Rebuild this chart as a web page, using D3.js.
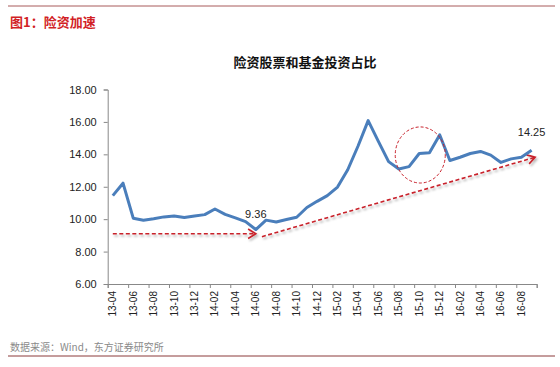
<!DOCTYPE html>
<html>
<head>
<meta charset="utf-8">
<script src="https://cdn.jsdelivr.net/npm/d3@7"></script>
<style>
  body { margin: 0; background: #fff; }
  svg { display: block; font-family: "Liberation Sans", "Noto Sans CJK SC", sans-serif; }
</style>
</head>
<body>
<div id="chart"></div>
<script>
// 月份 13-04 .. 16-09
const months = ["13-04","13-05","13-06","13-07","13-08","13-09","13-10","13-11","13-12",
  "14-01","14-02","14-03","14-04","14-05","14-06","14-07","14-08","14-09","14-10","14-11","14-12",
  "15-01","15-02","15-03","15-04","15-05","15-06","15-07","15-08","15-09","15-10","15-11","15-12",
  "16-01","16-02","16-03","16-04","16-05","16-06","16-07","16-08","16-09"];

const share = [11.45, 12.22, 10.06, 9.93, 10.02, 10.14, 10.20, 10.10, 10.20,
  10.28, 10.63, 10.30, 10.08, 9.85, 9.36, 9.94, 9.83, 9.98, 10.12, 10.72, 11.10,
  11.45, 11.98, 13.05, 14.50, 16.08, 14.80, 13.55, 13.10, 13.24, 14.05, 14.10, 15.20,
  13.62, 13.82, 14.05, 14.18, 13.95, 13.50, 13.72, 13.82, 14.25];

const yTicks = [6, 8, 10, 12, 14, 16, 18];
const tickLabels = months.filter((d, i) => i % 2 === 0);

// 标注：数值标签、箭头、圆圈（数据坐标）
const valueLabels = [{i: 14, v: 9.36, dy: -12}, {i: 41, v: 14.25, dy: -14}];
const arrows = [
  {from: [0, 9.1], to: [14.0, 9.1]},
  {from: [14.6, 8.92], to: [41.35, 13.82]}
];
const ring = {i: 30.1, v: 13.96, ri: 2.45, rv: 1.73};

const width = 560, height = 367;
const x0 = 107.7, x1 = 536.7, yTop = 89.5, yBot = 284;

const svg = d3.select("#chart").append("svg")
  .attr("width", width)
  .attr("height", height);

const x = d3.scaleBand().domain(months).range([x0, x1]);
const xi = d3.scaleLinear().domain([0, months.length]).range([x0, x1]);
const xc = i => xi(i + 0.5);
const y = d3.scaleLinear().domain([6, 18]).range([yBot, yTop]);

// 页眉页脚线
svg.append("line").attr("x1", 8).attr("x2", 555).attr("y1", 6).attr("y2", 6)
  .attr("stroke", "#a85a5a").attr("stroke-width", 1);
svg.append("line").attr("x1", 8).attr("x2", 555).attr("y1", 356).attr("y2", 356)
  .attr("stroke", "#8b3a3a").attr("stroke-width", 1);

svg.append("text")
  .attr("x", 10).attr("y", 27)
  .attr("font-size", 13).attr("font-weight", "bold")
  .attr("fill", "#d21f26")
  .style("font-family", "'Noto Sans CJK SC', sans-serif")
  .text("图1：险资加速");

svg.append("text")
  .attr("x", 305).attr("y", 67)
  .attr("text-anchor", "middle")
  .attr("font-size", 13).attr("font-weight", "bold")
  .attr("fill", "#111")
  .style("font-family", "'Noto Sans CJK SC', sans-serif")
  .text("险资股票和基金投资占比");

svg.append("text")
  .attr("x", 10).attr("y", 351)
  .attr("font-size", 10)
  .attr("fill", "#8a8a8a")
  .style("font-family", "'Noto Sans CJK SC', sans-serif")
  .text("数据来源：Wind，东方证券研究所");

// y 轴
const yAxis = svg.append("g")
  .attr("transform", "translate(" + x0 + ",0)")
  .call(d3.axisLeft(y).tickValues(yTicks).tickSize(4).tickFormat(d3.format(".2f")));
yAxis.select(".domain").attr("stroke", "#888");
yAxis.selectAll(".tick line").attr("stroke", "#888");
yAxis.selectAll("text").attr("font-size", 11).attr("fill", "#222").attr("dx", -4);

// x 轴（刻度在类别之间，每两个月一个）
const xAxis = svg.append("g")
  .attr("transform", "translate(0," + yBot + ")")
  .call(d3.axisBottom(xi).tickValues(d3.range(0, months.length + 1, 2)).tickSize(4).tickFormat(""));
xAxis.select(".domain").attr("stroke", "#888");
xAxis.selectAll(".tick line").attr("stroke", "#888");

svg.append("g").selectAll("text")
  .data(tickLabels)
  .enter().append("text")
  .attr("transform", d => "translate(" + (x(d) + x.bandwidth() / 2 + 3.5) + "," + (yBot + 7) + ") rotate(-90)")
  .attr("text-anchor", "end")
  .attr("font-size", 10)
  .attr("fill", "#222")
  .text(d => d);

// 阴影
const defs = svg.append("defs");
const f = defs.append("filter").attr("id", "shadow").attr("x", "-10%").attr("y", "-50%")
  .attr("width", "120%").attr("height", "200%");
f.append("feDropShadow").attr("dx", 1.5).attr("dy", 2).attr("stdDeviation", 1.2)
  .attr("flood-color", "#000").attr("flood-opacity", 0.3);

// 箭头
const arrowColor = "#c8202a";
arrows.forEach(a => {
  const p0 = [xi(a.from[0] + 0.5), y(a.from[1])];
  const p1 = [xi(a.to[0] + 0.5), y(a.to[1])];
  const ang = Math.atan2(p1[1] - p0[1], p1[0] - p0[0]);
  const g = svg.append("g").attr("filter", "url(#shadow)");
  g.append("line")
    .attr("x1", p0[0]).attr("y1", p0[1]).attr("x2", p1[0]).attr("y2", p1[1])
    .attr("stroke", arrowColor).attr("stroke-width", 1.6)
    .attr("stroke-dasharray", "4,2.5");
  const L = 9, spread = 0.55;
  const h1 = [p1[0] - L * Math.cos(ang - spread), p1[1] - L * Math.sin(ang - spread)];
  const h2 = [p1[0] - L * Math.cos(ang + spread), p1[1] - L * Math.sin(ang + spread)];
  g.append("path")
    .attr("d", "M" + h1 + "L" + p1 + "L" + h2)
    .attr("fill", "none").attr("stroke", arrowColor).attr("stroke-width", 1.6);
});

// 主线
const line = d3.line()
  .x((d, i) => xc(i))
  .y(d => y(d));

svg.append("path")
  .datum(share)
  .attr("fill", "none")
  .attr("stroke", "#4a7ebb")
  .attr("stroke-width", 3)
  .attr("stroke-linejoin", "round")
  .attr("d", line);

// 圆圈
svg.append("ellipse")
  .attr("cx", xc(ring.i)).attr("cy", y(ring.v))
  .attr("rx", xi(ring.ri) - xi(0))
  .attr("ry", y(0) - y(ring.rv))
  .attr("fill", "none")
  .attr("stroke", arrowColor)
  .attr("stroke-width", 1)
  .attr("stroke-dasharray", "3,2");

// 数值标签
svg.append("g").selectAll("text")
  .data(valueLabels)
  .enter().append("text")
  .attr("x", d => xc(d.i))
  .attr("y", d => y(d.v) + d.dy)
  .attr("text-anchor", "middle")
  .attr("font-size", 11)
  .attr("fill", "#222")
  .text(d => d.v.toFixed(2));
</script>
</body>
</html>
